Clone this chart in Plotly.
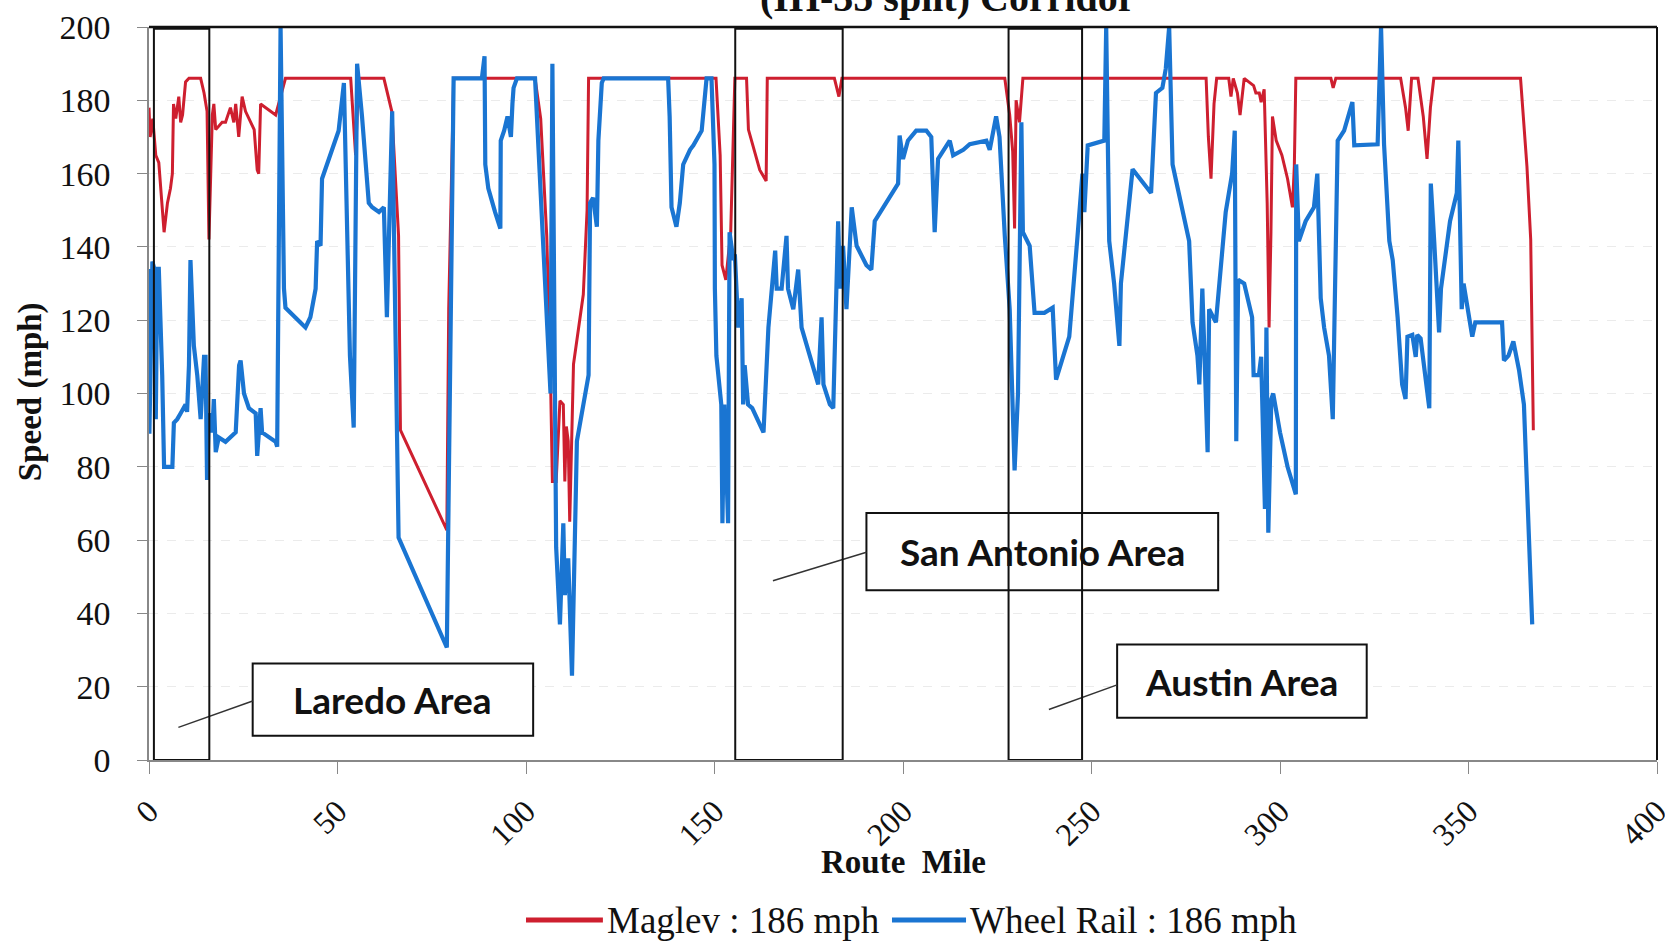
import plotly.graph_objects as go

# ---------------- data (route mile, speed mph) ----------------
maglev_x = [0, 0.3, 1.0, 1.8, 2.6, 3.1, 3.6, 4.0, 4.9, 5.7, 6.2, 6.5, 7.1, 7.9, 8.4, 8.9, 9.7, 10.6,
            13.7, 14.6, 15.4, 15.9, 16.8, 17.2, 17.7, 18.5, 19.4, 20.3, 21.6, 22.5, 23.0, 23.8, 24.7,
            25.6, 26.5, 27.9, 28.7, 29.1, 29.6, 30.9, 33.6, 36.2, 53.5, 54.8, 55.6, 62.3, 63.6, 64.4,
            66.2, 66.7, 79.0, 79.5, 80.8, 102.4, 103.9, 105.5, 106.4, 107.0, 108.0, 109.0, 109.9,
            110.3, 110.7, 111.2, 111.6, 112.6, 115.2, 116.2, 116.6, 150.4, 151.5, 152.0, 153.0, 154.3,
            155.4, 158.5, 159.0, 162.0, 163.7, 164.0, 181.8, 183.0, 183.8, 227.0, 228.3, 229.1, 229.6,
            230.0, 230.9, 231.8, 280.4, 281.0, 281.7, 282.5, 283.2, 286.4, 287.0, 287.6, 288.7, 289.4,
            290.5, 293.0, 293.6, 294.5, 295.0, 295.8, 296.6, 297.1, 297.6, 298.0, 299.0, 300.5, 302.0,
            303.3, 303.8, 304.2, 313.5, 314.1, 314.8, 332.0, 333.3, 334.0, 334.9, 336.6, 338.0, 339.0,
            339.9, 340.8, 363.8, 365.5, 366.5, 367.2]
maglev_y = [178, 170, 175, 165, 163, 156, 147, 144, 152, 156, 160, 179, 175, 181, 174, 176, 185, 186,
            186, 182, 177, 142, 176, 179, 172, 173, 174, 174, 178, 174, 179, 170, 181,
            177, 175, 172, 161, 160, 179, 178, 176, 186, 186, 165, 186, 186, 180, 177,
            143, 90, 62.7, 123, 186, 186, 175, 143, 110, 76, 76, 98, 97,
            76, 91, 87, 65, 108, 127, 150, 186, 186, 165, 135, 131, 144,
            186, 186, 172, 161, 158, 186, 186, 181, 186, 186, 176, 166, 145,
            180, 174, 186, 186, 170, 158.6, 179, 186, 186, 181, 186, 182, 176,
            186, 184, 182, 182, 179.5, 183, 152, 118, 144, 175.6, 169, 165, 158.6,
            150.8, 162, 186, 186, 183.4, 186, 186, 178, 171.7, 186, 186, 175.6, 164,
            178, 186, 186, 162, 142, 90]

wheel_x = [0, 0.1, 0.9, 1.4, 1.8, 2.2, 2.6, 3.5, 4.0, 6.2, 6.6, 7.5, 8.4, 9.7, 10.1, 10.6, 11.0, 11.9,
           12.8, 13.7, 14.6, 15.0, 15.4, 15.9, 16.8, 17.2, 17.7, 18.5, 20.3, 23.0, 23.9, 24.3, 25.2,
           26.5, 28.3, 28.7, 29.6, 30.0, 33.6, 34.0, 34.9, 35.8, 36.2, 38.8, 41.5, 42.8, 44.2, 44.6,
           45.5, 45.9, 50.3, 51.7, 52.5, 53.3, 54.3, 55.2, 56.5, 58.3, 59.2, 61.0, 62.3, 63.1, 64.5,
           65.3, 66.2, 79.0, 80.8, 88.3, 89.0, 89.2, 90.0, 91.8, 93.2, 93.3, 94.2, 95.1, 96.0, 96.4,
           96.7, 97.6, 102.4, 106.5, 107.0, 108.0, 109.0, 109.9, 110.3, 111.2, 112.2, 113.5, 116.6,
           117.0, 117.8, 118.8, 119.2, 120.1, 120.6, 137.7, 138.1, 138.6, 139.9, 140.8, 141.7, 143.5,
           144.4, 146.6, 147.9, 149.2, 150.0, 150.1, 150.5, 151.8, 152.1, 152.6, 153.6, 154.0, 155.0,
           155.4, 156.3, 157.2, 157.6, 158.0, 158.9, 160.0, 163.0, 164.3, 166.1, 166.5, 167.8, 169.1,
           169.5, 170.9, 172.2, 173.1, 176.2, 177.5, 178.4, 178.9, 180.6, 181.5, 182.8, 183.3, 184.1,
           185.0, 186.4, 187.7, 190.3, 191.6, 192.5, 198.7, 199.1, 200.0, 201.3, 203.5, 206.2, 207.5,
           208.4, 209.3, 212.4, 213.3, 216.0, 217.7, 222.1, 223.0, 224.7, 225.6, 227.0, 228.3, 229.6,
           230.5, 231.4, 231.8, 233.6, 234.9, 237.5, 239.7, 240.6, 242.4, 244.1, 246.3, 247.6, 248.1,
           249.0, 253.4, 253.9, 254.7, 256.0, 257.4, 257.8, 260.9, 265.8, 267.1, 268.8, 269.7, 270.6,
           271.5, 275.9, 276.8, 278.1, 278.6, 279.4, 280.8, 281.2, 283.0, 285.6, 287.3, 288.0, 288.4,
           288.9, 290.5, 292.6, 293.0, 294.4, 295.0, 296.0, 296.4, 296.9, 297.7, 298.2, 300.0, 302.0,
           304.2, 304.3, 305.0, 306.8, 309.0, 309.9, 310.8, 311.7, 313.0, 314.0, 314.5, 315.3, 317.0,
           318.3, 319.2, 319.7, 325.9, 326.8, 327.6, 329.0, 329.9, 331.2, 332.4, 333.3, 333.8, 335.1,
           336.0, 336.4, 337.3, 339.6, 340.0, 340.9, 342.2, 342.7, 344.0, 345.1, 346.9, 347.3, 347.7,
           348.2, 348.7, 350.0, 351.0, 351.8, 353.1, 358.9, 359.4, 360.6, 361.9, 363.4, 364.7, 366.9]
wheel_y = [134, 89, 136, 134, 93, 134, 134, 105, 80, 80, 92, 93, 94.6, 97, 95, 107.7, 136.4, 113,
           105, 93, 110, 110, 76.4, 94.6, 89.4, 98.5, 84, 88, 86.8, 89.4, 107.7, 109, 100,
           96, 94.6, 83, 96, 89.4, 86.8, 85.5, 200, 128.6, 123.4, 120.8, 118, 120.8, 128.6, 141.6,
           140.3, 158.6, 171.7, 184.7, 144, 110.3, 90.7, 190, 175.6, 152, 150.8, 149.5, 150.8, 120.8, 177,
           126, 60.7, 30.7, 186, 186, 192, 162.5, 156, 149.5, 145, 169, 171.7, 175.6, 170, 179,
           183.4, 186, 186, 100, 190, 58, 37, 64.6, 45, 55, 23, 87, 105,
           152, 153.4, 145.5, 169, 184.7, 186, 186, 175.6, 150.8, 145.5, 152, 162.5, 166.5,
           167.7, 171.7, 186, 186, 162.5, 128.6, 110.3, 97, 64.6, 97, 64.6, 144, 136.4,
           138, 118, 126, 97, 107.7, 97, 96, 89.4, 118, 139, 128.6, 128.6, 143,
           128.6, 123, 133.8, 118, 107.7, 102.5, 120.8, 102.5, 97, 96, 147, 128.6, 140.3,
           123, 150.8, 140.3, 135, 133.8, 147, 157.3, 170.4, 164, 169, 171.7, 171.7, 170,
           144, 164, 169, 165, 166.5, 168, 169, 166.5, 175.6, 170, 143, 123, 79,
           100, 174, 144, 140.3, 122, 122, 123.4, 103.8, 110.3, 115.5, 143, 160, 149.5,
           167.7, 169, 200, 141.6, 130, 113, 130, 161.2, 154.7, 182, 183.4, 188.6, 200,
           162.5, 141.6, 119.4, 110.3, 102.5, 128.6, 84, 123, 119.4, 149.5, 160, 171.7, 87,
           131, 130, 120.8, 105, 105, 110, 68.5, 118, 62, 98.5, 100, 89.4, 80,
           72.5, 162.5, 141.6, 147, 150.8, 160, 126, 118, 110.3, 93, 123, 169, 171.7,
           177, 179.5, 167.7, 168, 200, 168, 141.6, 136.4, 120.8, 102.5, 98.5, 115.5, 116,
           110, 116, 115, 96, 157.3, 141.6, 116.7, 128.6, 139, 147, 154.7, 169, 149.5,
           123, 130, 120.8, 115.5, 119.4, 119.4, 119.4, 109, 110.3, 114.2, 106.4, 97, 37]

series_names = ["Maglev : 186 mph", "Wheel Rail : 186 mph"]
area_names = ["Laredo Area", "San Antonio Area", "Austin Area"]
area_start = [1.3, 155.5, 228.0]
area_end = [16.0, 184.0, 247.5]

x_ticks = [0, 50, 100, 150, 200, 250, 300, 350, 400]
y_ticks = [0, 20, 40, 60, 80, 100, 120, 140, 160, 180, 200]

RED = "#CE1F2F"
BLUE = "#1A75D2"
SERIF = "Liberation Serif, Times New Roman, serif"

fig = go.Figure()
fig.add_trace(go.Scatter(x=maglev_x, y=maglev_y, mode="lines", name=series_names[0],
                         line=dict(color=RED, width=3), showlegend=False))
fig.add_trace(go.Scatter(x=wheel_x, y=wheel_y, mode="lines", name=series_names[1],
                         line=dict(color=BLUE, width=4.2), showlegend=False))

shapes = []
annotations = []

# callout boxes (label, box x0,x1,y0,y1, leader from -> to)
callouts = [
    (area_names[0], 27.5, 101.9, 6.6, 26.3, (27.5, 16.1), (7.8, 8.9)),
    (area_names[1], 190.3, 283.6, 46.3, 67.4, (190.3, 56.7), (165.5, 48.9)),
    (area_names[2], 256.8, 323.0, 11.5, 31.5, (256.8, 20.5), (238.7, 13.8)),
]
for label, x0, x1, y0, y1, p0, p1 in callouts:
    shapes.append(dict(type="rect", xref="x", yref="y", x0=x0, x1=x1, y0=y0, y1=y1,
                       line=dict(color="#111", width=2), fillcolor="white", layer="above"))
    shapes.append(dict(type="line", xref="x", yref="y", x0=p0[0], y0=p0[1], x1=p1[0], y1=p1[1],
                       line=dict(color="#333", width=1.5), layer="above"))
    annotations.append(dict(x=(x0 + x1) / 2, y=(y0 + y1) / 2, xref="x", yref="y", text=label,
                            showarrow=False, xanchor="center", yanchor="middle",
                            font=dict(family="Lato, sans-serif", size=37,
                                      color="#111", weight="bold")))

for s, e in zip(area_start, area_end):
    shapes.append(dict(type="rect", xref="x", yref="y", x0=s, x1=e, y0=0, y1=199.5,
                       line=dict(color="#111", width=2), layer="above"))

# top and right frame
shapes.append(dict(type="line", xref="paper", yref="paper", x0=0, x1=1, y0=1, y1=1,
                   line=dict(color="#111", width=2.5)))
shapes.append(dict(type="line", xref="paper", yref="paper", x0=1, x1=1, y0=0, y1=1,
                   line=dict(color="#111", width=2)))

# legend drawn by hand (line sample + text) below the axis title
legend_items = [(series_names[0], RED, 0.250, 0.301), (series_names[1], BLUE, 0.4927, 0.5418)]
for name, col, lx0, lx1 in legend_items:
    shapes.append(dict(type="line", xref="paper", yref="paper", x0=lx0, x1=lx1,
                       y0=-0.2183, y1=-0.2183, line=dict(color=col, width=5)))
    annotations.append(dict(x=lx1 + 0.0015, y=-0.2183, xref="paper", yref="paper",
                            xanchor="left", yanchor="middle", text=name, showarrow=False,
                            font=dict(family=SERIF, size=37, color="#111")))

# partially cut-off title (as in the source image)
annotations.append(dict(x=0.53, y=1.007, xref="paper", yref="paper", xanchor="center",
                        yanchor="bottom", text="(IH-35 split) Corridor", showarrow=False,
                        font=dict(family=SERIF, size=40, color="#111", weight="bold")))
# axis titles
annotations.append(dict(x=0.5, y=-0.139, xref="paper", yref="paper", xanchor="center",
                        yanchor="middle", text="Route  Mile", showarrow=False,
                        font=dict(family=SERIF, size=33, color="#111", weight="bold")))
annotations.append(dict(x=-0.079, y=0.503, xref="paper", yref="paper", xanchor="center",
                        yanchor="middle", text="Speed (mph)", textangle=-90, showarrow=False,
                        font=dict(family=SERIF, size=33, color="#111", weight="bold")))

fig.update_layout(
    width=1665, height=941,
    margin=dict(l=149, r=8, t=27, b=181, autoexpand=False),
    paper_bgcolor="white", plot_bgcolor="white",
    shapes=shapes, annotations=annotations,
    showlegend=False,
    xaxis=dict(range=[0, 400], tickvals=x_ticks, ticktext=[str(v) for v in x_ticks],
               tickangle=-45, showgrid=False, zeroline=False, showline=True, automargin=False,
               linecolor="#888", linewidth=1.5, ticks="outside", ticklen=12, tickcolor="#888",
               tickfont=dict(family=SERIF, size=32, color="#111"), ticklabelstandoff=6,
               ticklabeloverflow="allow"),
    yaxis=dict(range=[0, 200], tickvals=y_ticks, ticktext=[str(v) for v in y_ticks],
               showgrid=True, gridcolor="#EBEBEB", griddash="dash", gridwidth=1, automargin=False,
               zeroline=False, showline=True, linecolor="#888", linewidth=1.5,
               ticks="outside", ticklen=10, tickcolor="#888",
               tickfont=dict(family=SERIF, size=34, color="#111"), ticklabelstandoff=20),
)

fig.write_html("out.html")
